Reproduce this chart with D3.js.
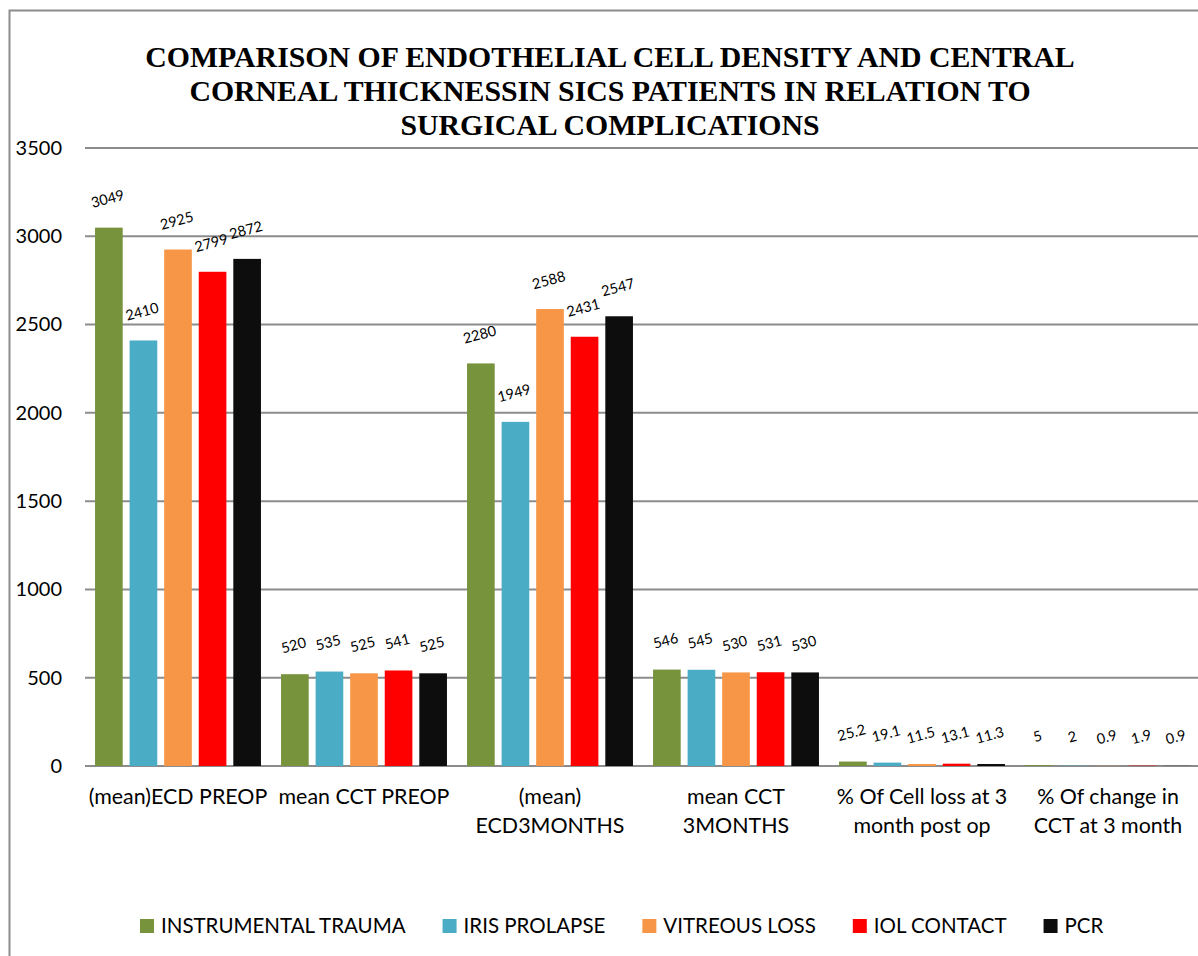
<!DOCTYPE html>
<html>
<head>
<meta charset="utf-8">
<script src="https://cdn.jsdelivr.net/npm/d3@7"></script>
<style>
  body { margin: 0; background: #fff; }
  svg { display: block; }
</style>
</head>
<body>
<div id="content"></div>
<script>
// data
var categories = [
  ["(mean)ECD PREOP"],
  ["mean CCT PREOP"],
  ["(mean)", "ECD3MONTHS"],
  ["mean CCT", "3MONTHS"],
  ["% Of Cell loss at 3", "month post op"],
  ["% Of change in", "CCT at 3 month"]
];
var seriesNames = ["INSTRUMENTAL TRAUMA", "IRIS PROLAPSE", "VITREOUS LOSS", "IOL CONTACT", "PCR"];
var seriesColors = ["#77933C", "#4BACC6", "#F79646", "#FF0000", "#0D0D0D"];
var instrumentalTrauma = [3049, 520, 2280, 546, 25.2, 5];
var irisProlapse = [2410, 535, 1949, 545, 19.1, 2];
var vitreousLoss = [2925, 525, 2588, 530, 11.5, 0.9];
var iolContact = [2799, 541, 2431, 531, 13.1, 1.9];
var pcr = [2872, 525, 2547, 530, 11.3, 0.9];
var yTicks = [0, 500, 1000, 1500, 2000, 2500, 3000, 3500];
var titleLines = [
  "COMPARISON OF ENDOTHELIAL CELL DENSITY AND CENTRAL",
  "CORNEAL THICKNESSIN SICS PATIENTS IN RELATION TO",
  "SURGICAL COMPLICATIONS"
];

var seriesValues = [instrumentalTrauma, irisProlapse, vitreousLoss, iolContact, pcr];

var W = 1198, H = 956;
var margin = {top: 148, right: -3, bottom: 190, left: 85};
var width = W - margin.left - margin.right,
    height = H - margin.top - margin.bottom;

var svg = d3.select("#content")
  .append("svg")
    .attr("width", W)
    .attr("height", H);

// outer chart border (runs off the right and bottom)
svg.append("rect")
  .attr("x", 9.5).attr("y", 10.5)
  .attr("width", 1400).attr("height", 1200)
  .attr("fill", "none")
  .attr("stroke", "#8c8c8c")
  .attr("stroke-width", 2);

// title
svg.append("g")
  .selectAll("text")
  .data(titleLines)
  .enter()
  .append("text")
    .attr("x", 610)
    .attr("y", function(d, i) { return 67 + i * 34; })
    .attr("text-anchor", "middle")
    .style("font-family", "'Liberation Serif', 'Times New Roman', serif")
    .style("font-weight", "bold")
    .style("font-size", "29.8px")
    .text(function(d) { return d; });

var g = svg.append("g")
  .attr("transform", "translate(" + margin.left + "," + margin.top + ")");

var x0 = d3.scaleBand()
  .domain(d3.range(categories.length))
  .range([0, width])
  .paddingInner(0.108)
  .paddingOuter(0.054);

var x1 = d3.scaleBand()
  .domain(d3.range(seriesNames.length))
  .range([0, x0.bandwidth()])
  .paddingInner(0.2);

var y = d3.scaleLinear()
  .domain([0, 3500])
  .range([height, 0]);

// gridlines
g.append("g")
  .selectAll("line")
  .data(yTicks)
  .enter()
  .append("line")
    .attr("x1", 0).attr("x2", width + 10)
    .attr("y1", function(d) { return y(d); })
    .attr("y2", function(d) { return y(d); })
    .attr("stroke", "#8c8c8c")
    .attr("stroke-width", 2);

// y axis labels
var yAxis = g.append("g")
  .call(d3.axisLeft(y).tickValues(yTicks).tickSize(0).tickPadding(23).tickFormat(d3.format("d")));
yAxis.select(".domain").remove();
yAxis.selectAll("text")
  .style("font-family", "Lato, 'Open Sans', sans-serif")
  .style("font-size", "20px")
  .attr("fill", "#000");

// bars
var groups = g.selectAll(".grp")
  .data(categories)
  .enter()
  .append("g")
    .attr("class", "grp")
    .attr("transform", function(d, i) { return "translate(" + x0(i) + ",0)"; });

groups.selectAll("rect")
  .data(function(d, i) { return seriesValues.map(function(s, j) { return {s: j, v: s[i]}; }); })
  .enter()
  .append("rect")
    .attr("x", function(d) { return x1(d.s); })
    .attr("y", function(d) { return y(d.v); })
    .attr("width", x1.bandwidth())
    .attr("height", function(d) { return height - y(d.v); })
    .attr("fill", function(d) { return seriesColors[d.s]; });

// value labels, tilted
groups.selectAll(".lbl")
  .data(function(d, i) { return seriesValues.map(function(s, j) { return {s: j, v: s[i]}; }); })
  .enter()
  .append("text")
    .attr("class", "lbl")
    .attr("transform", function(d) {
      return "translate(" + (x1(d.s) + x1.bandwidth() / 2) + "," + (y(d.v) - 24) + ") rotate(-15)";
    })
    .attr("text-anchor", "middle")
    .style("font-family", "Lato, 'Open Sans', sans-serif")
    .style("font-size", "14.5px")
    .text(function(d) { return d.v; });

// category labels
var xAxis = g.append("g")
  .attr("transform", "translate(0," + height + ")");
xAxis.selectAll("text")
  .data(categories)
  .enter()
  .append("text")
    .attr("x", function(d, i) { return x0(i) + x0.bandwidth() / 2; })
    .attr("y", 38)
    .attr("text-anchor", "middle")
    .style("font-family", "Lato, 'Open Sans', sans-serif")
    .style("font-size", "21.4px")
    .each(function(d) {
      var t = d3.select(this);
      d.forEach(function(line, k) {
        t.append("tspan")
          .attr("x", t.attr("x"))
          .attr("dy", k === 0 ? 0 : 29)
          .text(line);
      });
    });

// legend
var legend = svg.append("g").attr("transform", "translate(140,926)");
var lx = 0;
seriesNames.forEach(function(name, i) {
  var item = legend.append("g").attr("transform", "translate(" + lx + ",0)");
  item.append("rect")
    .attr("x", 0).attr("y", -7)
    .attr("width", 14).attr("height", 14)
    .attr("fill", seriesColors[i]);
  var t = item.append("text")
    .attr("x", 21).attr("y", 7)
    .style("font-family", "Lato, 'Open Sans', sans-serif")
    .style("font-size", "20.5px")
    .text(name);
  lx += 21 + t.node().getComputedTextLength() + 37;
});
</script>
</body>
</html>
